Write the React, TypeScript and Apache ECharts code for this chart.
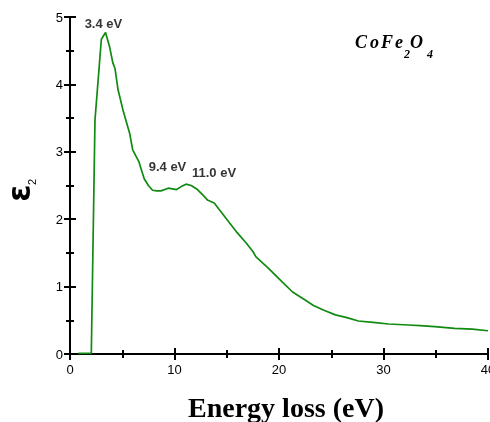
import React, { useEffect, useRef } from "react";
import * as echarts from "echarts";

const energy = [0.8, 2.04, 2.39, 3.0, 3.4, 3.8, 4.1, 4.3, 4.6, 5.1, 5.7, 6.0, 6.6, 7.1, 7.5, 7.9, 8.3, 8.7, 9.4, 9.8, 10.2, 10.6, 11.1, 11.6, 12.2, 12.7, 13.2, 13.8, 14.5, 15.2, 16.0, 16.9, 17.5, 17.8, 19.0, 20.3, 21.3, 22.5, 23.3, 24.3, 25.4, 26.5, 27.6, 29.0, 30.5, 32.4, 33.5, 34.9, 36.8, 38.5, 40];
const eps2 = [0.01, 0.01, 3.47, 4.67, 4.77, 4.55, 4.32, 4.24, 3.92, 3.6, 3.28, 3.03, 2.85, 2.6, 2.5, 2.43, 2.42, 2.42, 2.46, 2.45, 2.44, 2.48, 2.52, 2.5, 2.44, 2.36, 2.28, 2.24, 2.1, 1.96, 1.8, 1.64, 1.52, 1.44, 1.27, 1.07, 0.92, 0.8, 0.72, 0.65, 0.58, 0.54, 0.49, 0.47, 0.445, 0.43, 0.42, 0.405, 0.38, 0.37, 0.345];

const peakLabels = ["3.4 eV", "9.4 eV", "11.0 eV"];
const peakLabelX = [3.2, 9.33, 13.78];
const peakLabelY = [4.91, 2.78, 2.69];

const xTicks = { min: 0, max: 40, interval: 10 };
const yTicks = { min: 0, max: 5, interval: 1 };

export default function App() {
  const ref = useRef<HTMLDivElement>(null);
  useEffect(() => {
    if (!ref.current) return;
    const chart = echarts.init(ref.current, null, { renderer: "svg", width: 490, height: 422 });
    const axisLine = { show: true, lineStyle: { color: "#000", width: 2 } };
    const tickStyle = { inside: true, length: 6, lineStyle: { color: "#000", width: 2 } };
    const minorStyle = { show: true, splitNumber: 2, length: 4, lineStyle: { color: "#000", width: 2 } };
    const labelStyle = { color: "#000", fontFamily: "Liberation Sans", fontSize: 13 };
    const serif = "Liberation Serif";
    const formula = [
      { t: "C", x: 355, sub: false },
      { t: "o", x: 370, sub: false },
      { t: "F", x: 381, sub: false },
      { t: "e", x: 395, sub: false },
      { t: "2", x: 404, sub: true },
      { t: "O", x: 410, sub: false },
      { t: "4", x: 427, sub: true },
    ];
    chart.setOption({
      animation: false,
      grid: { left: 70, right: 2, top: 17, bottom: 68, containLabel: false, outerBoundsMode: "none" },
      xAxis: [
        {
          type: "value", ...xTicks, position: "bottom",
          axisLine, axisTick: tickStyle, minorTick: minorStyle, splitLine: { show: false },
          axisLabel: { ...labelStyle, margin: 9 },
        },
        {
          type: "value", ...xTicks, position: "top",
          axisLine, axisTick: tickStyle, minorTick: minorStyle, splitLine: { show: false },
          axisLabel: { show: false },
        },
      ],
      yAxis: [
        {
          type: "value", ...yTicks, position: "left",
          axisLine, axisTick: tickStyle, minorTick: minorStyle, splitLine: { show: false },
          axisLabel: { ...labelStyle, margin: 7 },
        },
        {
          type: "value", ...yTicks, position: "right",
          axisLine, axisTick: tickStyle, minorTick: minorStyle, splitLine: { show: false },
          axisLabel: { show: false },
        },
      ],
      series: [
        {
          type: "line",
          data: energy.map((e, i) => [e, eps2[i]]),
          showSymbol: false,
          symbol: "none",
          lineStyle: { color: "#108a10", width: 1.7 },
        },
        {
          type: "scatter",
          symbolSize: 0,
          data: peakLabels.map((l, i) => ({ value: [peakLabelX[i], peakLabelY[i]], name: l })),
          label: {
            show: true, position: "inside", formatter: (p: any) => p.name,
            fontFamily: "Liberation Sans", fontWeight: "bold", fontSize: 13, color: "#000",
          },
        },
      ],
      graphic: [
        {
          type: "text", left: 188, top: 393,
          style: { text: "Energy loss (eV)", font: `bold 28px ${serif}`, fill: "#000" },
        },
        {
          type: "group", x: 19, y: 193, rotation: Math.PI / 2,
          children: [
            { type: "text", x: 0, y: 0, style: { text: "ε", font: "bold 31px 'DejaVu Sans'", fill: "#000", align: "center", verticalAlign: "middle" } },
            { type: "text", x: 8, y: 13, style: { text: "2", font: "11px 'Liberation Sans'", fill: "#000", align: "left", verticalAlign: "middle" } },
          ],
        },
        ...formula.map((f) => ({
          type: "text", x: f.x, y: f.sub ? 54 : 42,
          style: {
            text: f.t,
            font: f.sub ? `bold italic 12px ${serif}` : `bold italic 18px ${serif}`,
            fill: "#000", verticalAlign: "middle",
          },
        })),
      ],
    });
    return () => chart.dispose();
  }, []);
  return (
    <div
      ref={ref}
      style={{ position: "fixed", left: 0, top: 0, width: 490, height: 422, overflow: "hidden" }}
    />
  );
}
